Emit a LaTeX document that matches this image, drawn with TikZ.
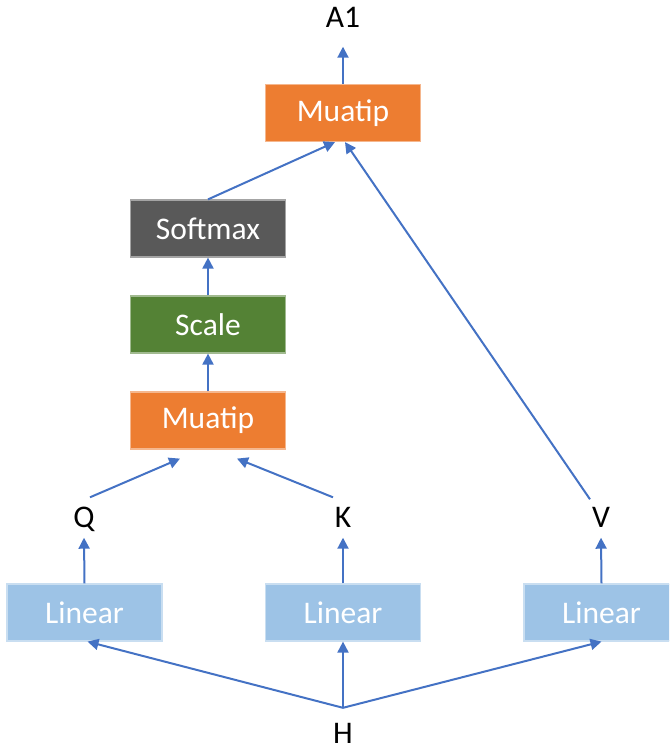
\documentclass[tikz,border=0pt]{standalone}
\usepackage{fontspec}
\setmainfont{Carlito}
\usetikzlibrary{arrows.meta}
\definecolor{orangebox}{HTML}{ED7D31}
\definecolor{graybox}{HTML}{595959}
\definecolor{greenbox}{HTML}{548235}
\definecolor{bluebox}{HTML}{9DC3E6}
\definecolor{arrowblue}{HTML}{4472C4}
\tikzset{
  box/.style={rectangle, fill=#1, draw=#1!55!white, line width=1.2pt,
    minimum width=155pt, minimum height=57pt, inner sep=0pt,
    text=white, font=\fontsize{31.5}{31.5}\selectfont},
  lbl/.style={inner sep=0pt, text height=20pt, text depth=0pt,
    text=black, font=\fontsize{31.5}{31.5}\selectfont},
  arr/.style={draw=arrowblue, line width=2pt,
    -{Triangle[length=11pt,width=11pt]}}
}
\begin{document}
\begin{tikzpicture}[x=1pt,y=-1pt]
\useasboundingbox (0,0) rectangle (669,749);
\clip (0,0) rectangle (669,749);
% boxes
\node[box=orangebox] (mt) at (343,113) {Muatip};
\node[box=graybox]   (sm) at (208,228.5) {Softmax};
\node[box=greenbox]  (sc) at (208,324.5) {Scale};
\node[box=orangebox] (mb) at (208,420.5) {Muatip};
\node[box=bluebox]   (la) at (84.5,612.5) {Linear};
\node[box=bluebox]   (lb) at (343,612.5) {Linear};
\node[box=bluebox]   (lc) at (601.5,612.5) {Linear};
% labels
\node[lbl] (A1) at (343,17.5) {A1};
\node[lbl] (Q) at (84,517.5) {Q};
\node[lbl] (K) at (343,517.5) {K};
\node[lbl] (V) at (601,517.5) {V};
\node[lbl] (H) at (343,733.5) {H};
% connectors
\draw[arr] (mt.north) -- ([yshift=-19pt]A1.south);
\draw[arr] (sm.north) -- ([xshift=-8pt]mt.south);
\draw[arr] ([xshift=-11pt,yshift=8pt]V.north) -- ([xshift=2pt]mt.south);
\draw[arr] (sc.north) -- (sm.south);
\draw[arr] (mb.north) -- (sc.south);
\draw[arr] ([xshift=6pt,yshift=10pt]Q.north) -- ([xshift=-28pt,yshift=-9pt]mb.south);
\draw[arr] ([xshift=-10pt,yshift=10pt]K.north) -- ([xshift=29pt,yshift=-9pt]mb.south);
\draw[arr] (la.north) -- ([yshift=-10pt]Q.south);
\draw[arr] (lb.north) -- ([yshift=-10pt]K.south);
\draw[arr] (lc.north) -- ([yshift=-10pt]V.south);
\coordinate (hs) at ([yshift=15.5pt]H.north);
\draw[arr] (hs) -- ([xshift=3pt]la.south);
\draw[arr] (hs) -- (lb.south);
\draw[arr] (hs) -- (lc.south);
\end{tikzpicture}
\end{document}
